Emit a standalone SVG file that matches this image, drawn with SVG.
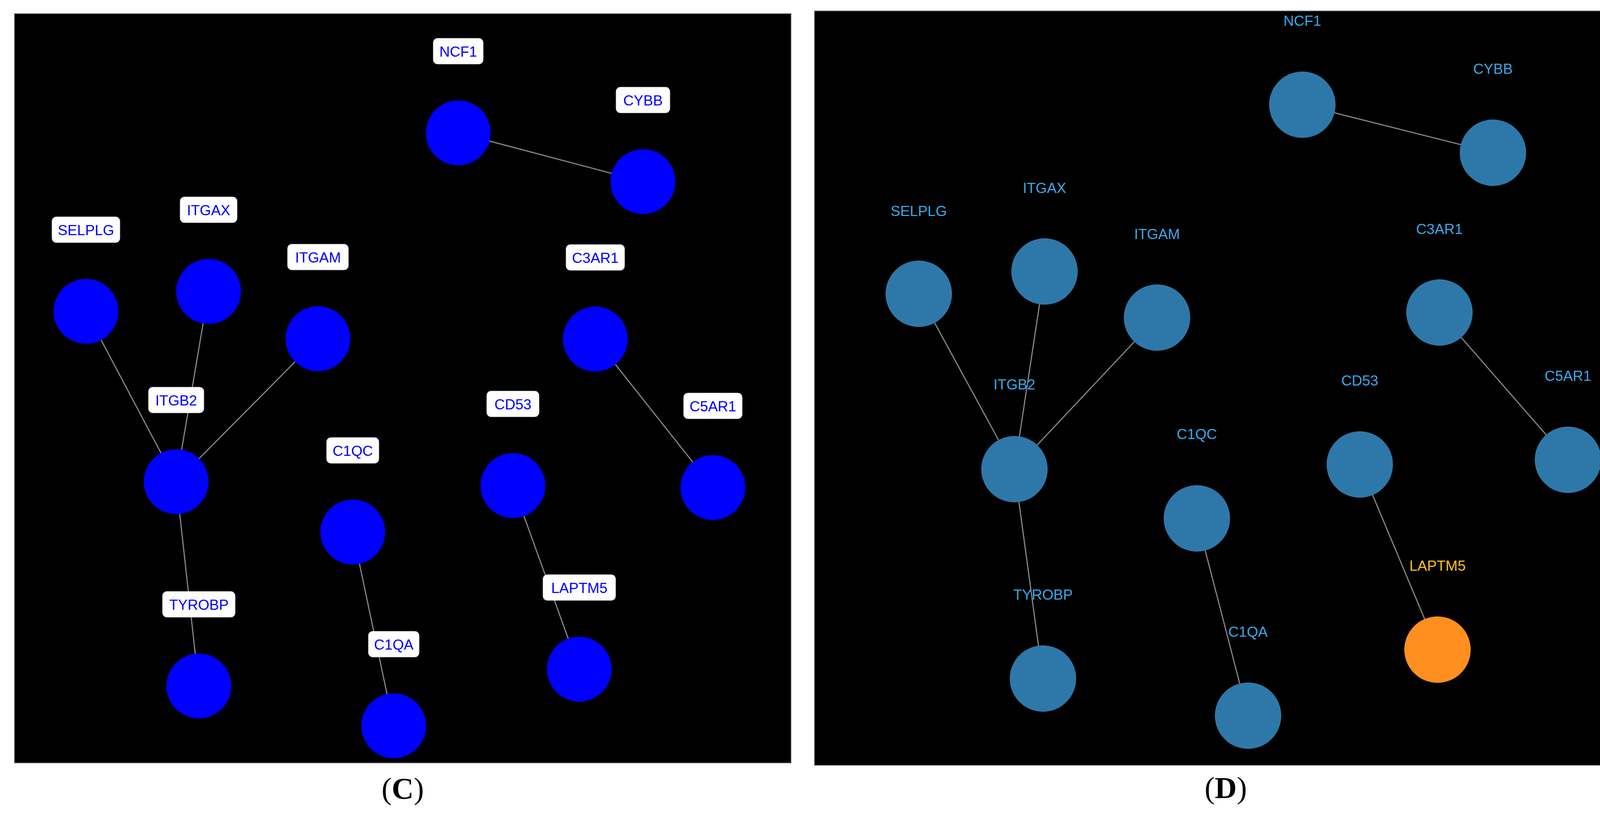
<svg xmlns="http://www.w3.org/2000/svg" width="4231" height="2094" viewBox="0 0 4231 2094">
<style>
.panel{fill:#000;stroke:#6e6e6e;stroke-width:2}
.edge{stroke:#858585;stroke-width:3;fill:none}
.nc{fill:#0000ff}
.nd{fill:#2e78a9}
.nh{fill:#ff8f1f}
.box{fill:#fff;stroke:#d0d0d0;stroke-width:1}
.lc{font-family:"Liberation Sans",Arial,sans-serif;font-size:37px;fill:#0000ff;text-anchor:middle}
.ld{font-family:"Liberation Sans",Arial,sans-serif;font-size:37px;fill:#3aa8e6;text-anchor:middle}
.lh{fill:#ffc21c}
.cap{font-family:"Liberation Serif","Times New Roman",serif;font-size:78px;fill:#000;text-anchor:middle}
</style>
<rect x="0" y="0" width="4231" height="2094" fill="#fff"/>
<rect class="panel" x="37" y="35" width="1988" height="1918"/>
<rect class="panel" x="2085" y="28" width="2105" height="1931"/>

<g id="connectors-C">
<line class="edge" x1="1173" y1="340" x2="1646" y2="465"/>
<line class="edge" x1="220" y1="797" x2="451" y2="1233"/>
<line class="edge" x1="534" y1="746" x2="451" y2="1233"/>
<line class="edge" x1="814" y1="867" x2="451" y2="1233"/>
<line class="edge" x1="451" y1="1233" x2="509" y2="1756"/>
<line class="edge" x1="1524" y1="868" x2="1825" y2="1248"/>
<line class="edge" x1="1313" y1="1243" x2="1483" y2="1713"/>
<line class="edge" x1="903" y1="1362" x2="1008" y2="1858"/>
</g>

<g id="C-NCF1"><circle class="nc" cx="1173" cy="340" r="83"/><rect class="box" x="1109" y="98" width="128" height="66" rx="11"/><text class="lc" x="1173" y="145">NCF1</text></g>
<g id="C-CYBB"><circle class="nc" cx="1646" cy="465" r="83"/><rect class="box" x="1577" y="223" width="138" height="66" rx="11"/><text class="lc" x="1646" y="270">CYBB</text></g>
<g id="C-SELPLG"><circle class="nc" cx="220" cy="797" r="83"/><rect class="box" x="133" y="555" width="174" height="66" rx="11"/><text class="lc" x="220" y="602">SELPLG</text></g>
<g id="C-ITGAX"><circle class="nc" cx="534" cy="746" r="83"/><rect class="box" x="461" y="504" width="146" height="66" rx="11"/><text class="lc" x="534" y="551">ITGAX</text></g>
<g id="C-ITGAM"><circle class="nc" cx="814" cy="867" r="83"/><rect class="box" x="736" y="625" width="156" height="66" rx="11"/><text class="lc" x="814" y="672">ITGAM</text></g>
<g id="C-C3AR1"><circle class="nc" cx="1524" cy="868" r="83"/><rect class="box" x="1449" y="626" width="150" height="66" rx="11"/><text class="lc" x="1524" y="673">C3AR1</text></g>
<g id="C-ITGB2"><circle class="nc" cx="451" cy="1233" r="83"/><rect class="box" x="380" y="991" width="142" height="66" rx="11"/><text class="lc" x="451" y="1038">ITGB2</text></g>
<g id="C-CD53"><circle class="nc" cx="1313" cy="1243" r="83"/><rect class="box" x="1246" y="1001" width="134" height="66" rx="11"/><text class="lc" x="1313" y="1048">CD53</text></g>
<g id="C-C5AR1"><circle class="nc" cx="1825" cy="1248" r="83"/><rect class="box" x="1750" y="1006" width="150" height="66" rx="11"/><text class="lc" x="1825" y="1053">C5AR1</text></g>
<g id="C-C1QC"><circle class="nc" cx="903" cy="1362" r="83"/><rect class="box" x="836" y="1120" width="134" height="66" rx="11"/><text class="lc" x="903" y="1167">C1QC</text></g>
<g id="C-LAPTM5"><circle class="nc" cx="1483" cy="1713" r="83"/><rect class="box" x="1390" y="1471" width="186" height="66" rx="11"/><text class="lc" x="1483" y="1518">LAPTM5</text></g>
<g id="C-TYROBP"><circle class="nc" cx="509" cy="1756" r="83"/><rect class="box" x="416" y="1514" width="186" height="66" rx="11"/><text class="lc" x="509" y="1561">TYROBP</text></g>
<g id="C-C1QA"><circle class="nc" cx="1008" cy="1858" r="83"/><rect class="box" x="943" y="1616" width="130" height="66" rx="11"/><text class="lc" x="1008" y="1663">C1QA</text></g>

<g id="connectors-D">
<line class="edge" x1="3334" y1="268" x2="3822" y2="391"/>
<line class="edge" x1="2352" y1="752" x2="2597" y2="1201"/>
<line class="edge" x1="2674" y1="695" x2="2597" y2="1201"/>
<line class="edge" x1="2962" y1="813" x2="2597" y2="1201"/>
<line class="edge" x1="2597" y1="1201" x2="2670" y2="1737"/>
<line class="edge" x1="3685" y1="800" x2="4014" y2="1177"/>
<line class="edge" x1="3481" y1="1189" x2="3680" y2="1663"/>
<line class="edge" x1="3064" y1="1327" x2="3195" y2="1832"/>
</g>

<g id="D-NCF1"><circle class="nd" cx="3334" cy="268" r="85"/><text class="ld" x="3334" y="66">NCF1</text></g>
<g id="D-CYBB"><circle class="nd" cx="3822" cy="391" r="85"/><text class="ld" x="3822" y="189">CYBB</text></g>
<g id="D-SELPLG"><circle class="nd" cx="2352" cy="752" r="85"/><text class="ld" x="2352" y="553">SELPLG</text></g>
<g id="D-ITGAX"><circle class="nd" cx="2674" cy="695" r="85"/><text class="ld" x="2674" y="494">ITGAX</text></g>
<g id="D-ITGAM"><circle class="nd" cx="2962" cy="813" r="85"/><text class="ld" x="2962" y="612">ITGAM</text></g>
<g id="D-C3AR1"><circle class="nd" cx="3685" cy="800" r="85"/><text class="ld" x="3685" y="599">C3AR1</text></g>
<g id="D-ITGB2"><circle class="nd" cx="2597" cy="1201" r="85"/><text class="ld" x="2597" y="997">ITGB2</text></g>
<g id="D-CD53"><circle class="nd" cx="3481" cy="1189" r="85"/><text class="ld" x="3481" y="987">CD53</text></g>
<g id="D-C5AR1"><circle class="nd" cx="4014" cy="1177" r="85"/><text class="ld" x="4014" y="975">C5AR1</text></g>
<g id="D-C1QC"><circle class="nd" cx="3064" cy="1327" r="85"/><text class="ld" x="3064" y="1124">C1QC</text></g>
<g id="D-LAPTM5"><circle class="nh" cx="3680" cy="1663" r="85"/><text class="ld lh" x="3680" y="1461">LAPTM5</text></g>
<g id="D-TYROBP"><circle class="nd" cx="2670" cy="1737" r="85"/><text class="ld" x="2670" y="1535">TYROBP</text></g>
<g id="D-C1QA"><circle class="nd" cx="3195" cy="1832" r="85"/><text class="ld" x="3195" y="1630">C1QA</text></g>

<g id="captions">
<text class="cap" x="1031" y="2045">(<tspan font-weight="bold">C</tspan>)</text>
<text class="cap" x="3138" y="2043">(<tspan font-weight="bold">D</tspan>)</text>
</g>
</svg>
